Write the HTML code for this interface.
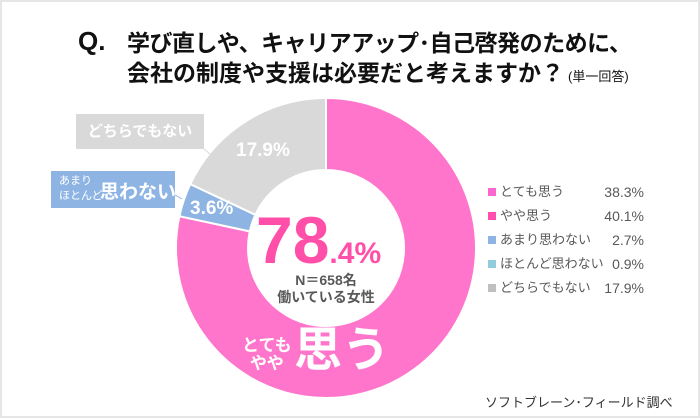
<!DOCTYPE html>
<html><head><meta charset="utf-8"><style>
html,body{margin:0;padding:0}
body{width:700px;height:420px;position:relative;background:#fff;overflow:hidden;font-family:"Liberation Sans","Noto Sans CJK JP",sans-serif}
.frame{position:absolute;left:0;top:0;width:696px;height:414px;border:2px solid #e6e6e6}
.t{position:absolute;white-space:nowrap}
</style></head><body>
<div class="frame"></div>
<div class="t" style="left:78px;top:26px;font-size:26px;font-weight:bold;color:#111;line-height:30px">Q.</div>
<div class="t" style="left:127px;top:24px;font-size:23px;font-weight:bold;color:#111;letter-spacing:-0.5px">学び直しや、キャリアアップ･自己啓発のために、</div>
<div class="t" style="left:127px;top:54px;font-size:23px;font-weight:bold;color:#111;letter-spacing:0px">会社の制度や支援は必要だと考えますか？<span style="font-size:13px;font-weight:normal;margin-left:4px">(単一回答)</span></div>
<svg width="700" height="420" style="position:absolute;left:0;top:0">
<path d="M326,98 A150,150 0 1 1 179.4,216.2 L249.8,231.4 A78,78 0 1 0 326,170 Z" fill="#ff75cc" stroke="#fff" stroke-width="2"/>
<path d="M179.4,216.2 A150,150 0 0 1 190.3,184.1 L255.4,214.8 A78,78 0 0 0 249.8,231.4 Z" fill="#8eb4e3" stroke="#fff" stroke-width="2"/>
<path d="M190.3,184.1 A150,150 0 0 1 326,98 L326,170 A78,78 0 0 0 255.4,214.8 Z" fill="#d9d9d9" stroke="#fff" stroke-width="2"/>
<line x1="204" y1="149" x2="210" y2="154" stroke="#d9d9d9"/>
<line x1="175" y1="195" x2="182" y2="199" stroke="#8eb4e3"/>
</svg>
<div class="t" style="left:76px;top:114px;width:128px;height:35px;background:#d9d9d9;color:#fff;font-size:15px;font-weight:bold;line-height:35px;text-align:center">どちらでもない</div>
<div class="t" style="left:51px;top:171px;width:124px;height:37px;background:#8eb4e3;color:#fff">
<div class="t" style="left:8px;top:3px;font-size:11px;line-height:15px">あまり<br>ほとんど</div>
<div class="t" style="left:49px;top:6px;font-size:19px;font-weight:bold">思わない</div></div>
<div class="t" style="left:236px;top:140px;font-size:19px;font-weight:bold;color:#fff">17.9%</div>
<div class="t" style="left:190px;top:198px;font-size:19px;font-weight:bold;color:#fff">3.6%</div>
<div class="t" style="left:256px;top:205px;font-size:66px;font-weight:bold;color:#ff4fa8;line-height:70px">78<span style="font-size:30px">.4%</span></div>
<div class="t" style="left:226px;top:272px;width:200px;text-align:center;font-size:14px;font-weight:bold;color:#595959;line-height:17px">N＝658名<br>働いている女性</div>
<div class="t" style="left:242px;top:337px;font-size:17px;font-weight:bold;color:#fff;line-height:18px;text-align:center">とても<br>やや</div>
<div class="t" style="left:294px;top:323px;font-size:48px;font-weight:bold;color:#fff;line-height:56px">思う</div>
<div class="t" style="left:488px;top:180px;font-size:13px;color:#595959;line-height:24px">
<div><span style="display:inline-block;width:8px;height:8px;background:#ff66cc;margin-right:4px"></span>とても思う</div>
<div><span style="display:inline-block;width:8px;height:8px;background:#ff4fb0;margin-right:4px"></span>やや思う</div>
<div><span style="display:inline-block;width:8px;height:8px;background:#8eb4e3;margin-right:4px"></span>あまり思わない</div>
<div><span style="display:inline-block;width:8px;height:8px;background:#93cddd;margin-right:4px"></span>ほとんど思わない</div>
<div><span style="display:inline-block;width:8px;height:8px;background:#bfbfbf;margin-right:4px"></span>どちらでもない</div>
</div>
<div class="t" style="left:594px;top:180px;width:50px;text-align:right;font-size:14px;color:#595959;line-height:24px">38.3%<br>40.1%<br>2.7%<br>0.9%<br>17.9%</div>
<div class="t" style="left:485px;top:392px;font-size:13px;color:#333">ソフトブレーン･フィールド調べ</div>
</body></html>
